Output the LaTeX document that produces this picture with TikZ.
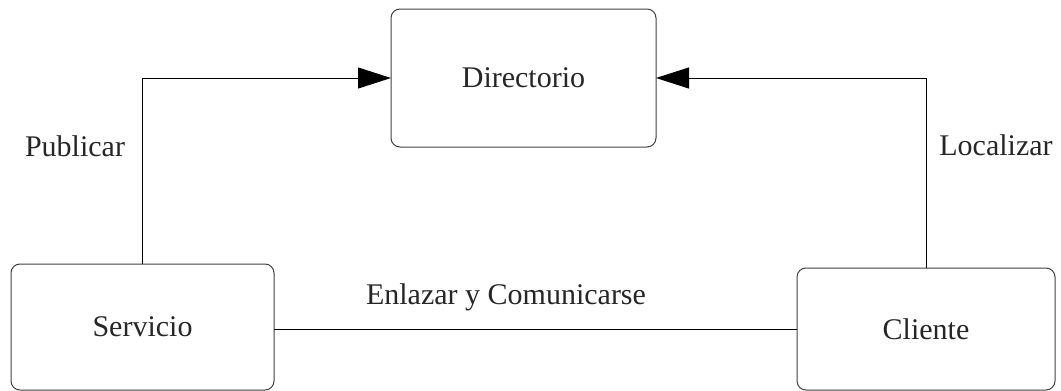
\documentclass[tikz,border=0pt]{standalone}
\usepackage{fontspec}
\setmainfont{Liberation Serif}
\usetikzlibrary{arrows.meta}
\begin{document}
\begin{tikzpicture}[x=1pt,y=-1pt,
  box/.style={draw=black!75, line width=1pt, rounded corners=9pt,
    inner sep=0pt, outer sep=0pt, font=\fontsize{30}{35}\selectfont, text=black!85},
  lbl/.style={inner sep=0pt, font=\fontsize{30}{35}\selectfont, text=black!85},
  link/.style={draw=black, line width=1pt},
  tip/.style={-{Triangle[length=33pt,width=21pt]}}]
  \useasboundingbox (0,0) rectangle (1061,391);
  \node[box, minimum width=265pt, minimum height=138pt] (dir) at (523.5,78) {Directorio};
  \node[box, minimum width=263pt, minimum height=126pt] (srv) at (142.5,327) {Servicio};
  \node[box, minimum width=258pt, minimum height=122pt] (cli) at (926,329) {Cliente};
  \draw[link, tip] (srv.north) |- (dir.west);
  \draw[link, tip] (cli.north) |- (dir.east);
  \draw[link] (srv.east |- cli.west) -- (cli.west);
  \node[lbl] (pub) at (75,146) {Publicar};
  \node[lbl] (loc) at (996,145) {Localizar};
  \node[lbl] (enl) at (506,297) {Enlazar y Comunicarse};
\end{tikzpicture}
\end{document}
